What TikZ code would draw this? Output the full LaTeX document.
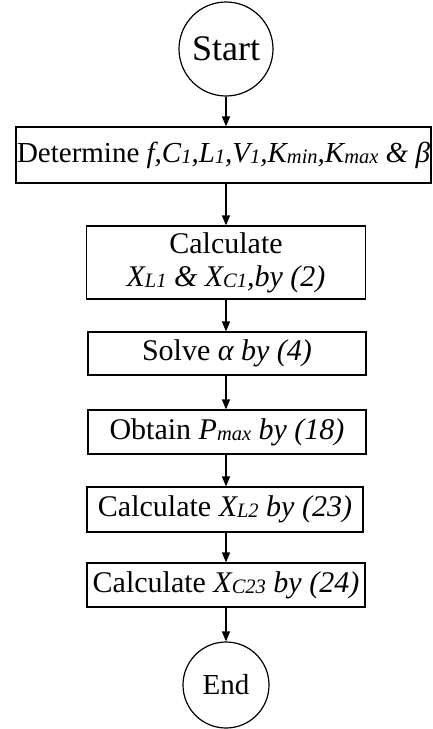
\documentclass[tikz,border=0pt]{standalone}
\usepackage{fontspec}
\setmainfont{Liberation Serif}
\usetikzlibrary{shapes, positioning, arrows.meta}

\newcommand{\lowsub}[1]{\raisebox{-1pt}{\fontsize{20.5}{21}\selectfont\itshape #1}}

\tikzset{
    termnode/.style={draw, circle, line width=1.2pt, inner sep=0pt, font=\fontsize{29}{33}\selectfont},
    procbox/.style={draw, rectangle, line width=1.2pt, inner sep=0pt, align=center, font=\fontsize{30}{33}\selectfont},
    flowarrow/.style={line width=1.2pt, -{Triangle[length=10pt,width=8pt]}}
}

\begin{document}
\begin{tikzpicture}[x=1pt, y=-1pt]
    \useasboundingbox (0,0) rectangle (432,729);

    % Start and end
    \node[termnode, minimum size=94pt, font=\fontsize{36}{40}\selectfont] (start) at (226,49) {Start};
    \node[termnode, minimum size=86pt] (finish) at (226,685) {End};

    % Process boxes
    \node[procbox, minimum width=415pt, minimum height=56pt, font=\fontsize{29}{33}\selectfont] (determine) at (223.5,155)
        {Determine \textit{f,C\lowsub{1},L\lowsub{1},V\lowsub{1},K\lowsub{min},K\lowsub{max} \& β}};
    \node[procbox, minimum width=279pt, minimum height=73pt] (calcx) at (226,262.5)
        {Calculate\\\textit{X\lowsub{L1} \& X\lowsub{C1},by (2)}};
    \node[procbox, minimum width=278pt, minimum height=43pt] (solve) at (227,353.5)
        {Solve \textit{α by (4)}};
    \node[procbox, minimum width=278pt, minimum height=44pt] (obtain) at (227,432)
        {Obtain \textit{P\lowsub{max} by (18)}};
    \node[procbox, minimum width=276pt, minimum height=45pt] (calcl) at (225,509.5)
        {Calculate \textit{X\lowsub{L2} by (23)}};
    \node[procbox, minimum width=278pt, minimum height=44pt] (calcc) at (226,585)
        {Calculate \textit{X\lowsub{C23} by (24)}};

    % Arrows
    \draw[flowarrow] (start) -- (start |- determine.north);
    \draw[flowarrow] (start |- determine.south) -- (start |- calcx.north);
    \draw[flowarrow] (start |- calcx.south) -- (start |- solve.north);
    \draw[flowarrow] (start |- solve.south) -- (start |- obtain.north);
    \draw[flowarrow] (start |- obtain.south) -- (start |- calcl.north);
    \draw[flowarrow] (start |- calcl.south) -- (start |- calcc.north);
    \draw[flowarrow] (start |- calcc.south) -- (finish);
\end{tikzpicture}
\end{document}
